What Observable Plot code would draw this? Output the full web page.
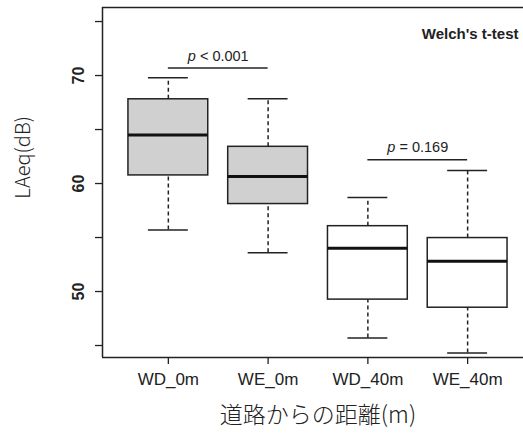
<!DOCTYPE html>
<html><head><meta charset="utf-8">
<script src="https://cdn.jsdelivr.net/npm/d3@7"></script>
<script src="https://cdn.jsdelivr.net/npm/@observablehq/plot@0.6"></script>
<style>html,body{margin:0;padding:0;background:#fff;} svg{display:block}</style>
</head><body><div id="chart"></div>
<script>
// ---- data ----
const categories   = ["WD_0m", "WE_0m", "WD_40m", "WE_40m"];
const distance     = ["0m", "0m", "40m", "40m"];
const lowerWhisker = [55.7, 53.6, 45.7, 44.3];
const q1           = [60.75, 58.1, 49.25, 48.5];
const median       = [64.5, 60.65, 54.0, 52.8];
const q3           = [67.8, 63.4, 56.05, 54.95];
const upperWhisker = [69.8, 67.85, 58.7, 61.2];
const yTicks       = [45, 50, 55, 60, 65, 70, 75];
const yTickLabels  = [50, 60, 70];
const testFrom     = [1, 3];
const testTo       = [2, 4];
const testY        = [70.7, 62.2];
const testLabel    = ["p < 0.001", "p = 0.169"];
const testName     = "Welch's t-test";
const xTitle       = "道路からの距離(m)";
const yTitle       = "LAeq(dB)";

const boxes = categories.map((c, i) => ({
  cat: c, i: i + 1, group: distance[i],
  lo: lowerWhisker[i], q1: q1[i], med: median[i], q3: q3[i], hi: upperWhisker[i]
}));
const tests = testLabel.map((l, k) => ({from: testFrom[k], to: testTo[k], y: testY[k], label: l}));

const X_DOMAIN = [0.34, 4.56];
const Y_DOMAIN = [43.89, 76.3];
const ink = "#222";
const font = "'Liberation Sans', Arial, sans-serif";
const cjk = "'Noto Sans CJK JP', 'Noto Sans', sans-serif";

const chart = Plot.plot({
  width: 523, height: 434,
  marginLeft: 102, marginRight: 0, marginTop: 7, marginBottom: 77,
  style: {fontFamily: font, background: "#fff", color: ink},
  x: {type: "linear", domain: X_DOMAIN, axis: null},
  y: {domain: Y_DOMAIN, axis: null},
  marks: [
    // frame lines (right side is cut off in the reference)
    Plot.ruleY(Y_DOMAIN, {stroke: ink, strokeWidth: 1.5}),
    Plot.ruleX([X_DOMAIN[0]], {stroke: ink, strokeWidth: 1.5}),
    // y ticks
    Plot.axisY({ticks: yTicks, tickSize: 7, tickFormat: () => "", stroke: ink, strokeWidth: 1.3}),
    Plot.text(yTickLabels, {y: d => d, text: d => String(d), frameAnchor: "left", dx: -24,
      rotate: -90, fontSize: 16, fontWeight: "bold", fill: ink, textAnchor: "middle", lineAnchor: "middle"}),
    // x ticks
    Plot.axisX({ticks: boxes.map(b => b.i), tickSize: 7, tickPadding: 8, fontSize: 17,
      tickFormat: d => categories[d - 1], label: null, stroke: ink, strokeWidth: 1.3, fill: ink}),
    // whiskers (dashed)
    Plot.ruleX(boxes, {x: "i", y1: "q3", y2: "hi", stroke: ink, strokeWidth: 1.5, strokeDasharray: "4,3"}),
    Plot.ruleX(boxes, {x: "i", y1: "lo", y2: "q1", stroke: ink, strokeWidth: 1.5, strokeDasharray: "4,3"}),
    // whisker caps
    Plot.ruleY(boxes, {y: "hi", x1: d => d.i - 0.2, x2: d => d.i + 0.2, stroke: ink, strokeWidth: 1.5}),
    Plot.ruleY(boxes, {y: "lo", x1: d => d.i - 0.2, x2: d => d.i + 0.2, stroke: ink, strokeWidth: 1.5}),
    // boxes
    Plot.rect(boxes, {x1: d => d.i - 0.4, x2: d => d.i + 0.4, y1: "q1", y2: "q3",
      fill: d => d.group === "0m" ? "#cfd0cf" : "#ffffff", stroke: ink, strokeWidth: 1.5}),
    // medians
    Plot.ruleY(boxes, {y: "med", x1: d => d.i - 0.4, x2: d => d.i + 0.4, stroke: "#111", strokeWidth: 3}),
    // significance brackets
    Plot.ruleY(tests, {y: "y", x1: "from", x2: "to", stroke: ink, strokeWidth: 1.3}),
    Plot.text(tests, {x: d => (d.from + d.to) / 2, y: "y", text: "label", dy: -12,
      fontSize: 14.5, fill: ink, lineAnchor: "middle", className: "pval"}),
    Plot.text([testName], {frameAnchor: "top-right", dx: -5, dy: 27, text: d => d,
      fontSize: 15, fontWeight: "bold", fill: ink, textAnchor: "end", lineAnchor: "middle"}),
    // axis titles
    Plot.text([xTitle], {x: 2.5, frameAnchor: "bottom", dy: 58, text: d => d,
      fontSize: 23, fontFamily: cjk, fontWeight: 300, fill: ink, lineAnchor: "middle"}),
    Plot.text([yTitle], {y: 58.6, frameAnchor: "left", dx: -79, text: d => d, rotate: -90,
      fontSize: 20, fontFamily: cjk, fontWeight: 300, fill: ink, lineAnchor: "middle"})
  ]
});

// italic "p" in the p-value labels
d3.select(chart).selectAll(".pval text").each(function () {
  const t = this.textContent;
  this.textContent = "";
  d3.select(this).append("tspan").attr("font-style", "italic").text(t.slice(0, 1));
  d3.select(this).append("tspan").text(t.slice(1));
});

document.getElementById("chart").appendChild(chart);
</script></body></html>
